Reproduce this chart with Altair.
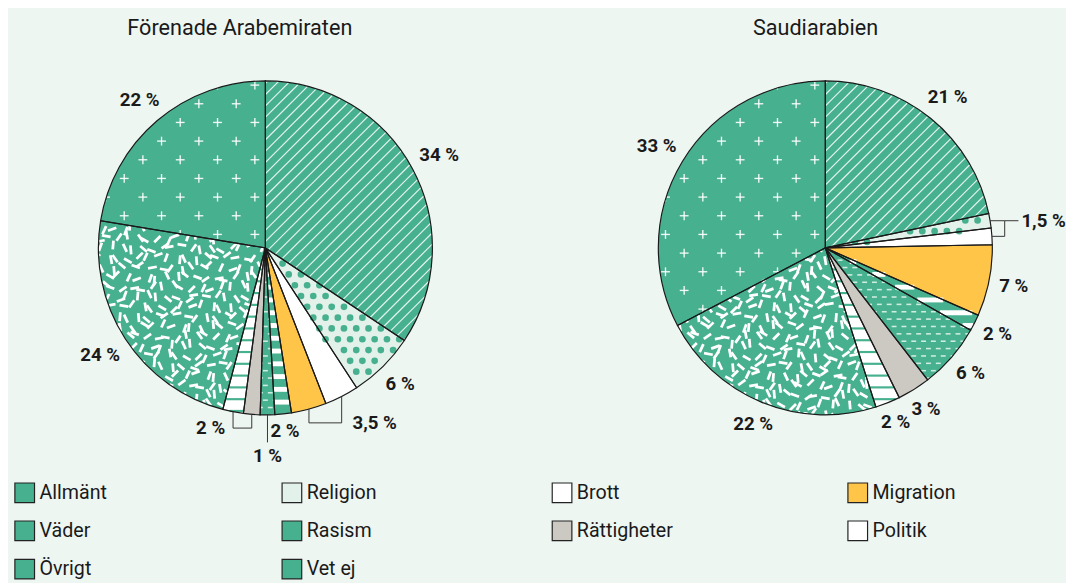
import altair as alt
import numpy as np
import pandas as pd

# ---------------- data ----------------
categories = ["Allmänt", "Religion", "Brott", "Migration", "Väder",
              "Rasism", "Rättigheter", "Politik", "Övrigt", "Vet ej"]
cat_colors = ["#47B08F", "#E2F1EA", "#FFFFFF", "#FFC548", "#47B08F",
              "#47B08F", "#CCC8C2", "#FFFFFF", "#47B08F", "#47B08F"]

# slice shares (clockwise from 12 o'clock)
uae_values = [34.35, 6.45, 3.3, 3.4, 1.6, 1.4, 1.6, 2.0, 23.5, 22.4]
saudi_values = [21.7, 1.4, 1.6, 6.9, 1.6, 6.3, 3.2, 2.4, 22.2, 32.7]

# printed labels, the slices each one refers to, and how it is attached
uae_label_text = ["34 %", "6 %", "3,5 %", "2 %", "1 %", "2 %", "24 %", "22 %"]
uae_label_cats = [[0], [1], [2, 3], [4], [5], [6, 7], [8], [9]]
uae_label_kind = ["radial", "radial", "bracket_down", "radial", "stem",
                  "bracket_down", "radial", "radial"]

saudi_label_text = ["21 %", "1,5 %", "7 %", "2 %", "6 %", "3 %", "2 %", "22 %", "33 %"]
saudi_label_cats = [[0], [1, 2], [3], [4], [5], [6], [7], [8], [9]]
saudi_label_kind = ["radial", "bracket_right", "radial", "radial", "radial",
                    "radial", "radial", "radial", "radial"]

panel_titles = ["Förenade Arabemiraten", "Saudiarabien"]

# ---------------- style ----------------
GREEN = "#47B08F"
INK = "#1a1a1a"
BG = "#EEF6F2"
FONT = "Roboto"
R = 170.0
H = 400

SEG_STYLE = {
    "diag": ("#FFFFFF", 1.2, 0.85),
    "wstripe": ("#FFFFFF", 5.0, 1.0),
    "gstripe": (GREEN, 2.2, 1.0),
    "dash": ("#D6EFE4", 1.6, 0.95),
    "bar": ("#FFFFFF", 2.8, 1.0),
    "cross": ("#FFFFFF", 1.4, 0.9),
    "bracket": ("#333333", 1.0, 1.0),
}


def wedge_angles(values):
    tot = float(sum(values))
    cum = np.concatenate([[0.0], np.cumsum(values)]) / tot * 2 * np.pi
    return [(cum[i], cum[i + 1]) for i in range(len(values))]


def inside(px, py, a0, a1, rmax=R):
    px = np.asarray(px, float)
    py = np.asarray(py, float)
    r = np.hypot(px, py)
    th = np.mod(np.arctan2(px, py), 2 * np.pi)
    return (r <= rmax) & (th >= a0) & (th <= a1)


def clip(x0, y0, x1, y1, a0, a1, n=300):
    t = np.linspace(0, 1, n)
    xs = x0 + (x1 - x0) * t
    ys = y0 + (y1 - y0) * t
    m = inside(xs, ys, a0, a1)
    if not m.any():
        return None
    idx = np.where(m)[0]
    return (xs[idx[0]], ys[idx[0]], xs[idx[-1]], ys[idx[-1]])


def make_patterns(values):
    w = wedge_angles(values)
    segs, dots = [], []
    L = 1.6 * R
    # Allmänt: diagonal hatching
    a0, a1 = w[0]
    for c in np.arange(-2 * R, 2 * R, 11.5):
        s = clip(c / 2 - L, -c / 2 - L, c / 2 + L, -c / 2 + L, a0, a1, 900)
        if s:
            segs.append(s + ("diag",))
    # Religion: dots
    a0, a1 = w[1]
    for k, yy in enumerate(np.arange(-R, R + 1, 11.0)):
        for xx in np.arange(-R, R + 1, 12.5):
            x = xx + (6.25 if k % 2 else 0.0)
            if inside([x], [yy], a0, a1, R - 2)[0]:
                dots.append((x, yy))
    # Väder: white horizontal stripes
    a0, a1 = w[4]
    for yy in np.arange(-R, R, 13.0):
        s = clip(-R, yy, R, yy, a0, a1, 900)
        if s:
            segs.append(s + ("wstripe",))
    # Rasism: short light dashes
    a0, a1 = w[5]
    for k, yy in enumerate(np.arange(-R, R, 7.5)):
        for xx in np.arange(-R, R, 10.0):
            x = xx + (5.0 if k % 2 else 0.0)
            s = clip(x - 2.5, yy, x + 2.5, yy, a0, a1, 12)
            if s:
                segs.append(s + ("dash",))
    # Politik: green horizontal stripes
    a0, a1 = w[7]
    for yy in np.arange(-R + 4, R, 12.0):
        s = clip(-R, yy, R, yy, a0, a1, 900)
        if s:
            segs.append(s + ("gstripe",))
    # Övrigt: scattered short bars
    a0, a1 = w[8]
    angs = [55, 140, 20, 100, 160, 70, 125, 35, 85, 150, 10, 115, 45, 170, 95, 65]
    jit = [0, 2, -2, 1, -1, 3, -3]
    xs = np.arange(-R, R, 10.0)
    ys = np.arange(-R, R, 10.0)
    for j, yy in enumerate(ys):
        for i, xx in enumerate(xs):
            ang = np.radians(angs[(3 * i + 5 * j) % len(angs)])
            cx = xx + (5.0 if j % 2 else 0.0) + jit[(i + 2 * j) % 7]
            cy = yy + jit[(2 * i + 3 * j + 1) % 7]
            dx, dy = 4.5 * np.cos(ang), 4.5 * np.sin(ang)
            s = clip(cx - dx, cy - dy, cx + dx, cy + dy, a0, a1, 15)
            if s:
                segs.append(s + ("bar",))
    # Vet ej: crosses
    a0, a1 = w[9]
    for k in range(-12, 13):
        yy = 127.7 - 19.0 * k
        for m in range(-6, 7):
            x = -10.7 + 38.0 * m + (19.0 if k % 2 else 0.0)
            for (ex, ey) in ((4.5, 0.0), (0.0, 4.5)):
                s = clip(x - ex, yy - ey, x + ex, yy + ey, a0, a1, 12)
                if s:
                    segs.append(s + ("cross",))
    return segs, dots


def text_w(s, size=19):
    w = 0.0
    for ch in s:
        if ch.isdigit():
            w += 0.56 * size
        elif ch == "%":
            w += 0.82 * size
        else:
            w += 0.26 * size
    return w


def make_labels(values, texts, cats, kinds):
    w = wedge_angles(values)
    rows, segs = [], []
    for txt, cs, kind in zip(texts, cats, kinds):
        mids = [(w[c][0] + w[c][1]) / 2 for c in cs]
        edges = [(R * np.sin(m), R * np.cos(m)) for m in mids]
        if kind == "radial":
            m = mids[0]
            d = R + 9 + abs(np.sin(m)) * text_w(txt) / 2 + abs(np.cos(m)) * 7
            rows.append((d * np.sin(m), d * np.cos(m), txt, "center"))
        elif kind == "stem":
            ex, ey = edges[0]
            segs.append((ex, ey, ex, ey - 28, "bracket"))
            rows.append((ex, ey - 42, txt, "center"))
        elif kind == "bracket_down":
            yb = min(e[1] for e in edges) - 14
            for ex, ey in edges:
                segs.append((ex, ey, ex, yb, "bracket"))
            xmin = min(e[0] for e in edges)
            xmax = max(e[0] for e in edges)
            segs.append((xmin, yb, xmax, yb, "bracket"))
            if np.mean(mids) < np.pi:
                rows.append((xmax + 11, yb, txt, "left"))
            else:
                rows.append((xmin - 8, yb, txt, "right"))
        elif kind == "bracket_right":
            xb = max(e[0] for e in edges) + 13
            for ex, ey in edges:
                segs.append((ex, ey, xb, ey, "bracket"))
            ytop = max(e[1] for e in edges)
            ybot = min(e[1] for e in edges)
            segs.append((xb, ytop, xb, ybot, "bracket"))
            segs.append((xb, ytop, xb + 14, ytop, "bracket"))
            rows.append((xb + 17, ytop, txt, "left"))
    return rows, segs


legend = alt.Legend(
    orient="none", legendX=-4, legendY=438, direction="horizontal",
    columns=4, columnPadding=175, rowPadding=13,
    symbolType="square", symbolSize=400,
    symbolStrokeColor="#222222", symbolStrokeWidth=1.2,
    labelFontSize=20, labelFont=FONT, labelColor=INK, labelOffset=4,
    title=None, padding=0,
)


def panel(values, texts, cats, kinds, title, W, dx):
    sx = alt.Scale(domain=[-W / 2, W / 2], nice=False, zero=False)
    sy = alt.Scale(domain=[-H / 2, H / 2], nice=False, zero=False)
    df = pd.DataFrame({"cat": categories, "value": values,
                       "idx": list(range(len(categories)))})
    base = alt.Chart(df).encode(
        theta=alt.Theta("value:Q", stack=True),
        order=alt.Order("idx:Q", sort="ascending"),
    )
    layers = [
        base.mark_arc(outerRadius=R).encode(
            color=alt.Color("cat:N", sort=categories,
                            scale=alt.Scale(domain=categories, range=cat_colors),
                            legend=legend)
        )
    ]
    segs, dots = make_patterns(values)
    rows, lsegs = make_labels(values, texts, cats, kinds)
    sdf = pd.DataFrame(segs, columns=["x", "y", "x2", "y2", "style"])
    for st in ["diag", "wstripe", "gstripe", "dash", "bar", "cross"]:
        sub = sdf[sdf["style"] == st]
        if len(sub) == 0:
            continue
        col, wd, op = SEG_STYLE[st]
        layers.append(
            alt.Chart(sub).mark_rule(color=col, strokeWidth=wd, opacity=op).encode(
                x=alt.X("x:Q", scale=sx, axis=None),
                y=alt.Y("y:Q", scale=sy, axis=None),
                x2="x2:Q", y2="y2:Q",
            )
        )
    if dots:
        ddf = pd.DataFrame(dots, columns=["x", "y"])
        layers.append(
            alt.Chart(ddf).mark_point(filled=True, shape="circle", size=46,
                                      color=GREEN, opacity=1).encode(
                x=alt.X("x:Q", scale=sx, axis=None),
                y=alt.Y("y:Q", scale=sy, axis=None),
            )
        )
    # outlines
    layers.append(base.mark_arc(outerRadius=R, fillOpacity=0, stroke=INK, strokeWidth=1.2))
    # leader lines
    ldf = pd.DataFrame(lsegs, columns=["x", "y", "x2", "y2", "style"])
    if len(ldf):
        col, wd, op = SEG_STYLE["bracket"]
        layers.append(
            alt.Chart(ldf).mark_rule(color=col, strokeWidth=wd).encode(
                x=alt.X("x:Q", scale=sx, axis=None),
                y=alt.Y("y:Q", scale=sy, axis=None),
                x2="x2:Q", y2="y2:Q",
            )
        )
    tdf = pd.DataFrame(rows, columns=["x", "y", "label", "align"])
    for al in ["left", "center", "right"]:
        sub = tdf[tdf["align"] == al]
        if len(sub) == 0:
            continue
        layers.append(
            alt.Chart(sub).mark_text(align=al, baseline="middle", font=FONT,
                                     fontSize=19, fontWeight="bold", color=INK).encode(
                x=alt.X("x:Q", scale=sx, axis=None),
                y=alt.Y("y:Q", scale=sy, axis=None),
                text="label:N",
            )
        )
    return alt.layer(*layers).properties(
        width=W, height=H,
        title=alt.Title(title, fontSize=22, font=FONT, fontWeight="normal",
                        color=INK, dx=dx, offset=12, anchor="middle"),
    )


p1 = panel(uae_values, uae_label_text, uae_label_cats, uae_label_kind,
           panel_titles[0], 504, -26)
p2 = panel(saudi_values, saudi_label_text, saudi_label_cats, saudi_label_kind,
           panel_titles[1], 460, -10)

chart = (
    alt.hconcat(p1, p2, spacing=88)
    .resolve_scale(color="shared", theta="independent", x="independent", y="independent")
    .properties(background=BG, padding={"left": 6, "top": 4, "right": 0, "bottom": 0})
    .configure_view(strokeWidth=0)
)

chart.save("out.html", embed_options={"renderer": "svg", "actions": False})
